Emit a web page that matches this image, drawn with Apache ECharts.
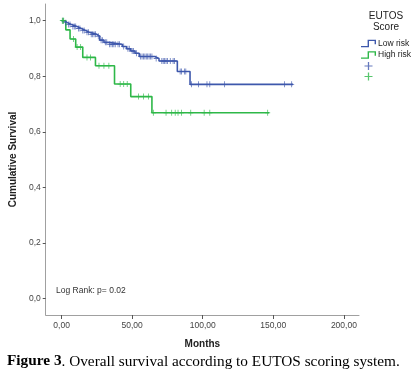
<!DOCTYPE html>
<html>
<head>
<meta charset="utf-8">
<script src="https://cdn.jsdelivr.net/npm/echarts@6/dist/echarts.min.js"></script>
<style>
html,body{margin:0;padding:0;background:#fff;}
#chart{width:420px;height:374px;}
</style>
</head>
<body>
<div id="chart"></div>
<script>
// ---- Data ----
var lowStepTimes = [0, 2, 4, 7, 11, 14, 17, 20, 25, 27, 30, 33, 43, 46, 49, 52, 55, 66, 69, 82, 91];
var lowStepSurv  = [1.0, 0.993, 0.986, 0.979, 0.972, 0.965, 0.958, 0.951, 0.944, 0.930, 0.922, 0.915, 0.907, 0.899, 0.891, 0.883, 0.871, 0.864, 0.855, 0.817, 0.771];
var lowEndTime = 164;
var lowCensored = [1, 3, 5, 6, 8, 9, 10, 12, 13, 15, 16, 18, 19, 21, 22, 23, 24, 26, 28, 29, 31, 32, 34, 35, 36, 37, 38, 40, 41, 44, 47, 48, 50, 51, 53, 56, 57, 58, 59, 60, 61, 62, 63, 64, 67, 71, 72, 73, 74, 75, 77, 79, 80, 84, 85, 87, 88, 92, 97, 103, 105, 115.5, 158, 163];

var highStepTimes = [0, 3, 6, 10, 15, 24, 37.5, 49, 64];
var highStepSurv  = [1.0, 0.967, 0.934, 0.905, 0.868, 0.838, 0.772, 0.727, 0.669];
var highEndTime = 147;
var highCensored = [0.5, 1, 1.5, 8.5, 11, 13.5, 18, 20.5, 26.5, 30, 33.5, 41.5, 44, 46.5, 54.5, 58, 61.5, 65, 74, 78, 80.5, 82.5, 85, 91.5, 101, 105, 146];

var xTicks = [0, 50, 100, 150, 200];
var yTicks = [0, 0.2, 0.4, 0.6, 0.8, 1.0];

var seriesNames = ['Low risk', 'High risk'];
var legendTitle = 'EUTOS\nScore';
var xName = 'Months';
var yName = 'Cumulative Survival';
var noteText = 'Log Rank: p= 0.02';

// ---- Build ----
function stepLine(times, surv, end) {
  var d = times.map(function (t, i) { return [t, surv[i]]; });
  d.push([end, surv[surv.length - 1]]);
  return d;
}
function survAt(times, surv, t) {
  var s = surv[0];
  for (var i = 0; i < times.length; i++) { if (times[i] <= t) s = surv[i]; }
  return s;
}
function censorPts(cens, times, surv) {
  return cens.map(function (t) { return [t, survAt(times, surv, t)]; });
}

var BLUE = '#3E58AC', GREEN = '#2EB848';
var plusPath = 'path://M4.2,0H5.8V10H4.2Z M0,4.3H10V5.7H0Z';
var stepIcon = 'path://M0,6.2H6.6V0H15V4.5H13.6V1.4H8V7.6H0Z';
var SANS = 'Liberation Sans, Arial, sans-serif';
var SERIF = 'Liberation Serif, Times New Roman, serif';

var chart = echarts.init(document.getElementById('chart'), null, {renderer: 'canvas'});
chart.setOption({
  animation: false,
  grid: {left: 43, right: 61, top: 4, bottom: 59, containLabel: false},
  xAxis: {
    type: 'value', min: -11.24, max: 210.7,
    name: xName, nameLocation: 'middle', nameGap: 24,
    nameTextStyle: {fontFamily: SANS, fontWeight: 'bold', fontSize: 10, color: '#222'},
    axisLine: {show: true, onZero: false, lineStyle: {color: '#a0a0a0', width: 1}},
    axisTick: {show: true, customValues: xTicks, length: 4, lineStyle: {color: '#555'}},
    axisLabel: {customValues: xTicks, fontFamily: SANS, fontSize: 8.5, color: '#444', margin: 6,
      formatter: function (v) { return v.toFixed(2).replace('.', ','); }},
    splitLine: {show: false}
  },
  yAxis: {
    type: 'value', min: -0.0586, max: 1.06,
    name: yName, nameLocation: 'middle', nameGap: 27,
    nameTextStyle: {fontFamily: SANS, fontWeight: 'bold', fontSize: 10, color: '#222'},
    axisLine: {show: true, onZero: false, lineStyle: {color: '#a0a0a0', width: 1}},
    axisTick: {show: true, customValues: yTicks, length: 3, lineStyle: {color: '#555'}},
    axisLabel: {customValues: yTicks, fontFamily: SANS, fontSize: 8.5, color: '#444', margin: 5,
      formatter: function (v) { return v.toFixed(1).replace('.', ','); }},
    splitLine: {show: false}
  },
  legend: {
    orient: 'vertical', left: 361, top: 39, padding: 0, itemWidth: 15, itemHeight: 8, itemGap: 2.5,
    textStyle: {fontFamily: SANS, fontSize: 8.5, color: '#222', padding: [0, 0, 0, -3]},
    selectedMode: false,
    formatter: function (n) { return n.indexOf('censored') >= 0 ? '' : n; },
    data: [
      {name: seriesNames[0], icon: stepIcon},
      {name: seriesNames[1], icon: stepIcon},
      {name: seriesNames[0] + ' censored', icon: plusPath},
      {name: seriesNames[1] + ' censored', icon: plusPath}
    ]
  },
  title: [
    {text: legendTitle, left: 386, top: 11, textAlign: 'center', padding: 0,
     textStyle: {fontFamily: SANS, fontSize: 10, fontWeight: 'normal', color: '#222', lineHeight: 11}},
    {text: noteText, left: 56, top: 286, padding: 0,
     textStyle: {fontFamily: SANS, fontSize: 8.5, fontWeight: 'normal', color: '#333'}},
    {text: '{b|Figure 3}{n|. Overall survival according to EUTOS scoring system.}', left: 7, top: 354, padding: 0,
     textStyle: {rich: {
       b: {fontFamily: SERIF, fontWeight: 'bold', fontSize: 15.3, color: '#000'},
       n: {fontFamily: SERIF, fontWeight: 'normal', fontSize: 15.3, color: '#000'}}}}
  ],
  series: [
    {name: seriesNames[0], type: 'line', step: 'end', showSymbol: false, color: BLUE,
     lineStyle: {color: BLUE, width: 1.6}, data: stepLine(lowStepTimes, lowStepSurv, lowEndTime), z: 3},
    {name: seriesNames[1], type: 'line', step: 'end', showSymbol: false, color: GREEN,
     lineStyle: {color: GREEN, width: 1.6}, data: stepLine(highStepTimes, highStepSurv, highEndTime), z: 2},
    {name: seriesNames[0] + ' censored', type: 'scatter', symbol: plusPath, symbolSize: [5, 6], symbolKeepAspect: false,
     color: BLUE, itemStyle: {color: BLUE}, data: censorPts(lowCensored, lowStepTimes, lowStepSurv), z: 4},
    {name: seriesNames[1] + ' censored', type: 'scatter', symbol: plusPath, symbolSize: [5, 6], symbolKeepAspect: false,
     color: GREEN, itemStyle: {color: GREEN}, data: censorPts(highCensored, highStepTimes, highStepSurv), z: 4}
  ]
});
</script>
</body>
</html>
